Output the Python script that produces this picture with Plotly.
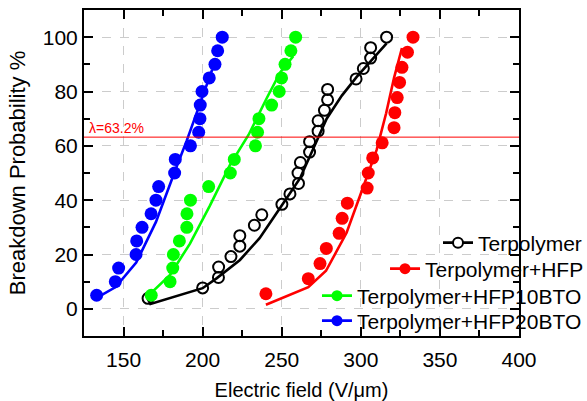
import plotly.graph_objects as go

# ---------------- data ----------------
ter_x = [165.5, 200.0, 210.0, 210.1, 217.9, 223.5, 223.5, 232.7, 237.4, 250.1, 255.2, 260.6, 260.3,
         261.8, 267.6, 267.6, 273.0, 273.0, 277.0, 279.0, 279.0, 297.0, 301.6, 306.2, 306.2, 316.3]
ter_y = [3.85, 7.69, 11.54, 15.38, 19.23, 23.08, 26.92, 30.77, 34.62, 38.46, 42.31, 46.15, 50.0,
         53.85, 57.69, 61.54, 65.38, 69.23, 73.08, 76.92, 80.77, 84.62, 88.46, 92.31, 96.15, 100.0]
ter_fit_x = [165, 167, 200, 209, 223.6, 236, 250, 261.5, 270, 278.4, 288, 297.4, 316.3]
ter_fit_y = [4, 1.8, 7.6, 11.3, 18, 26, 38, 48, 59, 70, 78.5, 85.4, 97.7]

hfp_x = [240.0, 266.8, 274.2, 278.2, 286.3, 288.2, 291.5, 304.0, 304.7, 307.5, 313.5, 321.0,
         321.5, 323.0, 324.5, 326.0, 329.5, 333.0]
hfp_y = [5.56, 11.11, 16.67, 22.22, 27.78, 33.33, 38.89, 44.44, 50.0, 55.56, 61.11, 66.67,
         72.22, 77.78, 83.33, 88.89, 94.44, 100.0]
hfp_fit_x = [240, 266.8, 278, 291, 301, 310, 316, 321, 326]
hfp_fit_y = [1.5, 8, 14, 28, 44, 58.5, 72, 85, 96]

b10_x = [167.5, 179.4, 181.1, 181.5, 185.3, 190.0, 190.1, 192.3, 203.8, 217.5, 220.0, 233.4,
         234.7, 235.6, 243.6, 248.4, 249.9, 252.1, 255.8, 258.8]
b10_y = [5, 10, 15, 20, 25, 30, 35, 40, 45, 50, 55, 60, 65, 70, 75, 80, 85, 90, 95, 100]
b10_fit_x = [165, 179.4, 192, 204.6, 217.3, 229, 240.5, 249, 257.3]
b10_fit_y = [4.5, 12.5, 24, 38, 53, 64, 77.5, 87, 93]

b20_x = [133.0, 144.8, 146.9, 157.9, 158.3, 161.7, 167.4, 170.5, 172.2, 182.3, 182.7, 192.3,
         197.5, 198.3, 198.5, 199.6, 204.2, 207.8, 209.5, 212.4]
b20_y = [5, 10, 15, 20, 25, 30, 35, 40, 45, 50, 55, 60, 65, 70, 75, 80, 85, 90, 95, 100]
b20_fit_x = [133, 145, 158, 170.5, 183, 190, 198, 206]
b20_fit_y = [4, 8, 17, 32, 51.5, 62, 75, 88]

series_names = ["Terpolymer", "Terpolymer+HFP", "Terpolymer+HFP10BTO", "Terpolymer+HFP20BTO"]
lambda_level = 63.2
lambda_label = "λ=63.2%"

x_range = [125, 400]
y_range = [-10, 110]

FONT = "Liberation Sans, Arial, sans-serif"

fig = go.Figure()

series = [
    (ter_x, ter_y, ter_fit_x, ter_fit_y, "black", True),
    (hfp_x, hfp_y, hfp_fit_x, hfp_fit_y, "#ff0000", False),
    (b10_x, b10_y, b10_fit_x, b10_fit_y, "#00ff00", False),
    (b20_x, b20_y, b20_fit_x, b20_fit_y, "#0000ff", False),
]
legend_ids = ["legend", "legend2", "legend3", "legend4"]

for (px_, py_, fx, fy, col, hollow), name, lg in zip(series, series_names, legend_ids):
    if hollow:
        mk = dict(symbol="circle-open", size=11, color=col, line=dict(width=2, color=col))
        mk_leg = dict(symbol="circle", size=10, color="white", line=dict(width=2, color=col))
    else:
        mk = dict(symbol="circle", size=13, color=col)
        mk_leg = dict(symbol="circle", size=11, color=col)
    fig.add_trace(go.Scatter(x=px_, y=py_, mode="markers", marker=mk, showlegend=False,
                             cliponaxis=False))
    fig.add_trace(go.Scatter(x=fx, y=fy, mode="lines", line=dict(color=col, width=2.6),
                             showlegend=False))
    fig.add_trace(go.Scatter(x=[None], y=[None], mode="lines+markers", name=name,
                             line=dict(color=col, width=2.6), marker=mk_leg,
                             showlegend=True, legend=lg))

# lambda reference line
fig.add_shape(type="line", xref="paper", x0=0, x1=1, yref="y", y0=lambda_level, y1=lambda_level,
              line=dict(color="#ff0000", width=1))
fig.add_annotation(xref="paper", x=0.008, yref="y", y=lambda_level, text=lambda_label,
                   showarrow=False, xanchor="left", yanchor="bottom", yshift=-1,
                   font=dict(family=FONT, size=14, color="#ff0000"))

axis_common = dict(
    showline=True, linecolor="black", linewidth=2, mirror="allticks",
    ticks="inside", ticklen=9, tickwidth=2, tickcolor="black",
    showgrid=True, gridcolor="#cccccc", gridwidth=1, griddash="dash",
    zeroline=False, tickfont=dict(family=FONT, size=21, color="black"),
    automargin=False,
)

fig.update_xaxes(range=x_range, tick0=0, dtick=50, ticklabelstandoff=4,
                 minor=dict(dtick=25, ticks="inside", ticklen=6, tickwidth=2, tickcolor="black",
                            showgrid=False),
                 title=dict(text="Electric field (V/μm)", font=dict(family=FONT, size=20, color="black"),
                            standoff=14),
                 **axis_common)
fig.update_yaxes(range=y_range, tick0=0, dtick=20,
                 minor=dict(dtick=10, ticks="inside", ticklen=6, tickwidth=2, tickcolor="black",
                            showgrid=False),
                 title=dict(text="Breakdown Probability %", font=dict(family=FONT, size=22, color="black"),
                            standoff=11),
                 **axis_common)

def legend_at(xp, yp):
    return dict(x=xp, y=yp, xanchor="left", yanchor="middle", bgcolor="rgba(0,0,0,0)",
                borderwidth=0, font=dict(family=FONT, size=21, color="black"),
                itemwidth=30, tracegroupgap=0)

fig.update_layout(
    width=587, height=401,
    margin=dict(l=84, r=68, t=10, b=65, autoexpand=False),
    paper_bgcolor="white", plot_bgcolor="white",
    legend=legend_at(0.8138, 0.2853),
    legend2=legend_at(0.692, 0.2055),
    legend3=legend_at(0.5356, 0.1227),
    legend4=legend_at(0.5356, 0.046),
)

fig.write_html("out.html", config={"displayModeBar": False},
               post_script="document.body.style.margin='0';")
